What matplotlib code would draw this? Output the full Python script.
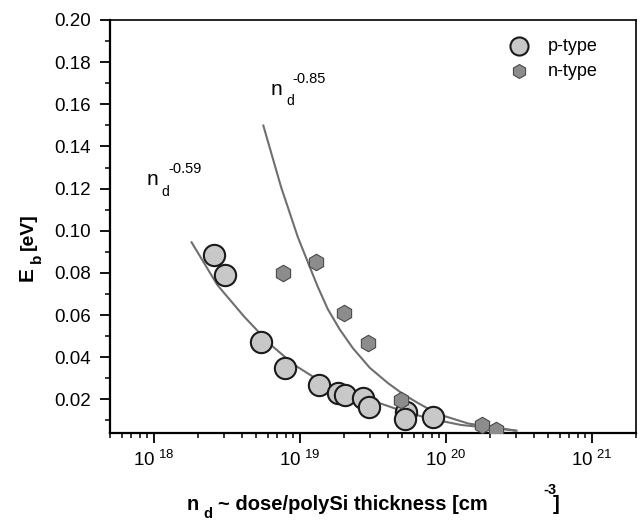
import math
import matplotlib
matplotlib.use("Agg")
import matplotlib.pyplot as plt
from matplotlib.ticker import FixedLocator, FuncFormatter, LogLocator, NullFormatter

plt.rcParams['font.family'] = ['Liberation Sans', 'DejaVu Sans']
plt.rcParams['mathtext.fontset'] = 'custom'
plt.rcParams['mathtext.rm'] = 'Liberation Sans'
plt.rcParams['mathtext.bf'] = 'Liberation Sans:bold'

# ---- data ----
p_nd = [2.56e18, 3.05e18, 5.37e18, 7.85e18, 1.34e19, 1.81e19, 2.02e19, 2.69e19,
        2.99e19, 5.35e19, 5.21e19, 8.15e19]
p_eb = [0.0885, 0.0792, 0.0472, 0.0349, 0.0268, 0.0228, 0.0222, 0.0205,
        0.0165, 0.0141, 0.0105, 0.0117]

n_nd = [7.6e18, 1.28e19, 2.0e19, 2.9e19, 4.94e19, 1.77e20, 2.21e20]
n_eb = [0.0797, 0.0853, 0.0608, 0.0466, 0.0197, 0.0078, 0.0054]

fit059_nd = [1.81e18, 2.72e18, 4.15e18, 6.32e18, 9.16e18, 1.55e19, 2.62e19,
             4.45e19, 7.5e19, 1.27e20, 2.16e20, 3.04e20]
fit059_eb = [0.0945, 0.0742, 0.0592, 0.0458, 0.0363, 0.0263, 0.0212,
             0.0157, 0.0110, 0.0078, 0.0062, 0.0051]

fit085_nd = [5.61e18, 7.41e18, 9.64e18, 1.13e19, 1.32e19, 1.55e19, 1.87e19,
             2.30e19, 3.01e19, 4.0e19, 5.07e19, 6.43e19, 8.81e19, 1.42e20, 2.97e20]
fit085_eb = [0.1499, 0.1209, 0.0972, 0.0852, 0.0736, 0.0628, 0.0532,
             0.0443, 0.0349, 0.0277, 0.0225, 0.0182, 0.0130, 0.0085, 0.0052]

y_major = [0.02, 0.04, 0.06, 0.08, 0.10, 0.12, 0.14, 0.16, 0.18, 0.20]
y_minor = [0.01, 0.03, 0.05, 0.07, 0.09, 0.11, 0.13, 0.15, 0.17, 0.19]
x_major = [1e18, 1e19, 1e20, 1e21]

W, H = 640, 521
fig = plt.figure(figsize=(6.4, 5.21), dpi=100)
L, R, T, B = 110, 636, 20, 433
ax = fig.add_axes([L / W, 1 - B / H, (R - L) / W, (B - T) / H])

line_col = '#6f6f6f'
ax.plot(fit059_nd, fit059_eb, color=line_col, lw=1.5, zorder=2)
ax.plot(fit085_nd, fit085_eb, color=line_col, lw=1.5, zorder=2)

ax.scatter(p_nd, p_eb, s=235, marker='o', facecolor='#c8c8c8',
           edgecolor='#1a1a1a', linewidth=1.5, zorder=3, label='p-type')
ax.scatter(n_nd, n_eb, s=140, marker='h', facecolor='#8c8c8c',
           edgecolor='#4a4a4a', linewidth=0.8, zorder=4, label='n-type')

ax.set_xscale('log')
ax.set_xlim(5e17, 2e21)
ax.set_ylim(0.004, 0.20)

ax.xaxis.set_major_locator(FixedLocator(x_major))
ax.xaxis.set_minor_locator(LogLocator(base=10, subs=range(2, 10)))
ax.xaxis.set_minor_formatter(NullFormatter())
ax.xaxis.set_major_formatter(FuncFormatter(
    lambda v, p: r'$\mathregular{10^{\ %d}}$' % round(math.log10(v))))
ax.yaxis.set_major_locator(FixedLocator(y_major))
ax.yaxis.set_minor_locator(FixedLocator(y_minor))
ax.yaxis.set_major_formatter(FuncFormatter(lambda v, p: '%.2f' % v))

ax.tick_params(which='major', direction='out', length=7, width=1.3, labelsize=13.5)
ax.tick_params(axis='y', which='major', pad=7)
ax.tick_params(axis='x', which='major', pad=5)
ax.tick_params(which='minor', direction='out', length=3.5, width=1.1)
ax.tick_params(top=False, right=False)
for s in ['left', 'bottom']:
    ax.spines[s].set_linewidth(1.6)
for s in ['top', 'right']:
    ax.spines[s].set_linewidth(1.2)

leg = ax.legend(loc='upper left', bbox_to_anchor=((505 - L) / (R - L), (B - 38) / (B - T)),
                frameon=False, fontsize=13, markerscale=0.85, handlelength=1.5,
                handletextpad=0.85, borderpad=0, borderaxespad=0, labelspacing=0.42,
                scatterpoints=1)

def ftext(px, py, s, **kw):
    fig.text(px / W, 1 - py / H, s, **kw)

# curve annotations
ftext(271, 95, 'n', fontsize=15, va='baseline', ha='left')
ftext(286, 105, 'd', fontsize=10, va='baseline', ha='left')
ftext(292, 83, '-0.85', fontsize=10.5, va='baseline', ha='left')
ftext(147, 185, 'n', fontsize=15, va='baseline', ha='left')
ftext(161, 196, 'd', fontsize=10, va='baseline', ha='left')
ftext(168, 173, '-0.59', fontsize=10.5, va='baseline', ha='left')

# x label pieces
ftext(187, 510, 'n', fontsize=14.5, fontweight='bold', va='baseline', ha='left')
ftext(203, 518, 'd', fontsize=10.5, fontweight='bold', va='baseline', ha='left')
ftext(218, 510, '~ dose/polySi thickness [cm', fontsize=14.5, fontweight='bold',
      va='baseline', ha='left')
ftext(543, 494, '-3', fontsize=10.5, fontweight='bold', va='baseline', ha='left')
ftext(553, 510, ']', fontsize=14.5, fontweight='bold', va='baseline', ha='left')

# y label pieces (rotated)
ftext(33, 281, 'E', fontsize=15, fontweight='bold', rotation=90,
      rotation_mode='anchor', va='baseline', ha='left')
ftext(41, 263, 'b', fontsize=11, fontweight='bold', rotation=90,
      rotation_mode='anchor', va='baseline', ha='left')
ftext(33, 250, '[eV]', fontsize=14, fontweight='bold', rotation=90,
      rotation_mode='anchor', va='baseline', ha='left')

fig.savefig('out.png', dpi=100)
